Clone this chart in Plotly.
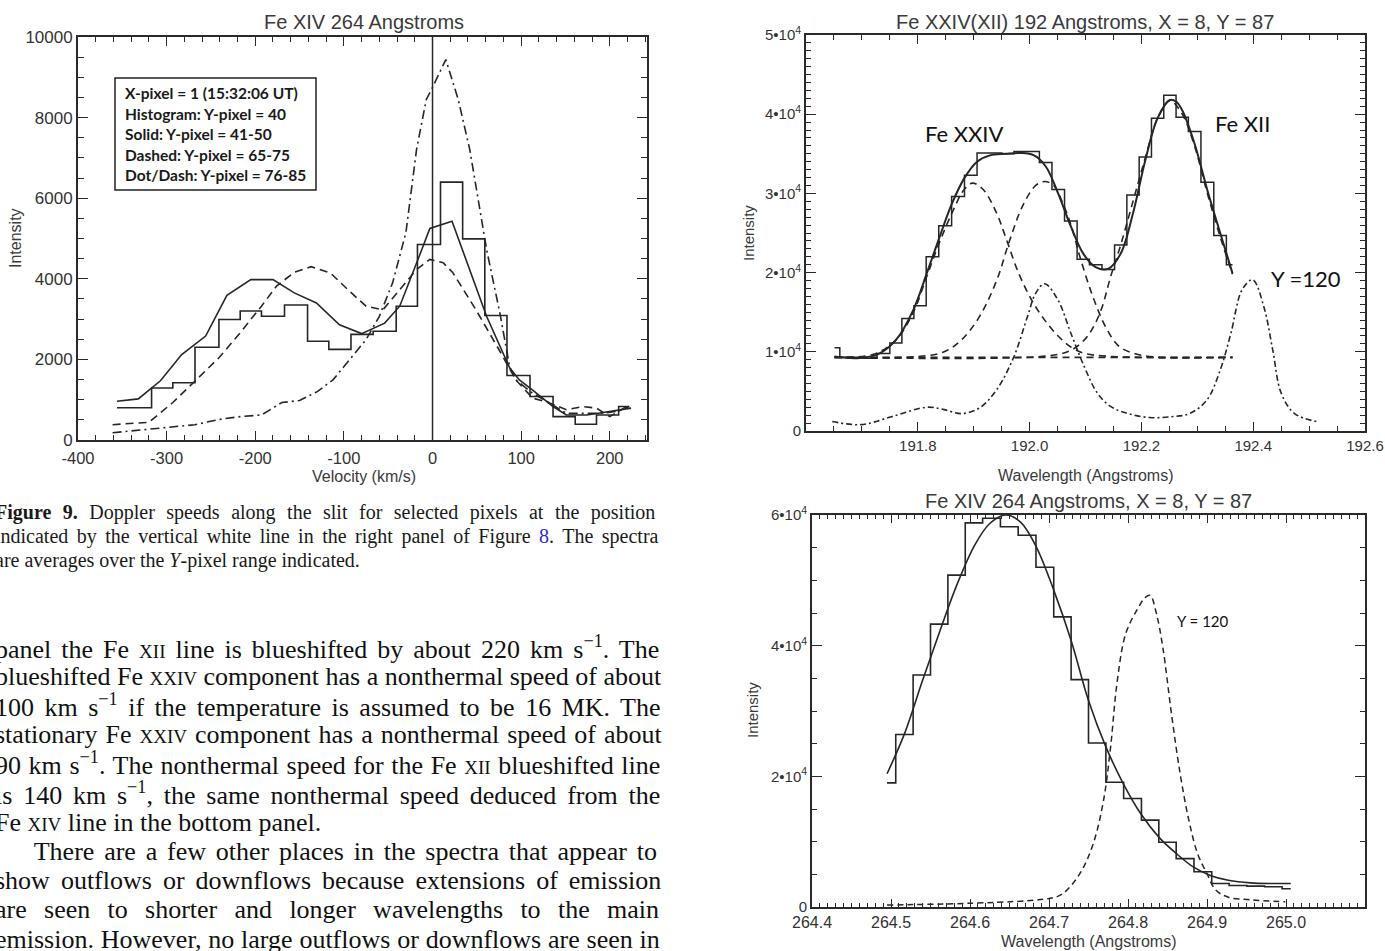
import plotly.graph_objects as go

W, H = 1385, 951
def px(x):
    return x / W
def py(y):
    return 1 - y / H

# ---------------- Left panel data (Fe XIV 264, velocity) ----------------
hist_edges = [-356, -317, -293, -268, -241, -217, -193, -167, -141, -117, -92, -67, -41,
              -17, 9, 34, 59, 84, 110, 136, 161, 185, 210, 222]
hist_values = [800, 1290, 1420, 2300, 2990, 3200, 3070, 3350, 2450, 2250, 2620, 2700, 3320,
               4850, 6400, 4990, 3090, 1600, 1080, 580, 390, 620, 830, 830]

solid_v = [-356, -332, -307, -283, -256, -232, -205, -180, -156, -131, -105, -80, -54, -37,
           -15, -3, 22, 61, 87, 98, 113, 136, 151, 174, 189, 211, 224]
solid_i = [960, 1020, 1470, 2120, 2580, 3590, 3980, 3980, 3650, 3400, 2860, 2640, 2900, 3320,
           4560, 5250, 5430, 3070, 1790, 1490, 1240, 830, 620, 620, 670, 750, 790]

dashed_v = [-361, -320, -293, -268, -241, -217, -193, -176, -156, -137, -115, -94, -75, -56,
            -37, -18, -3, 12, 23, 49, 75, 94, 113, 132, 151, 170, 185, 200, 222]
dashed_i = [380, 440, 930, 1470, 2040, 2660, 3320, 3820, 4160, 4300, 4140, 3700, 3320, 3230,
            3730, 4230, 4480, 4400, 4150, 3230, 2240, 1490, 1040, 920, 750, 830, 790, 580, 870]

dotdash_v = [-361, -300, -268, -241, -217, -193, -170, -150, -130, -112, -94, -75, -60, -45,
             -30, -18, -7, 0, 15, 29, 42, 61, 76, 87, 94, 113, 132, 151, 170, 189, 208, 222]
dotdash_i = [180, 310, 380, 510, 580, 620, 930, 980, 1200, 1500, 1990, 2490, 3070, 3900,
             5150, 7210, 8450, 8750, 9440, 8450, 7210, 4730, 3150, 1820, 1490, 1160, 920, 660,
             660, 660, 710, 830]

rest_velocity = 0
left_xticks = [-400, -300, -200, -100, 0, 100, 200]
left_yticks = [0, 2000, 4000, 6000, 8000, 10000]

# ---------------- Top-right panel data (Fe XXIV / Fe XII 192) ----------------
tr_hist_wl = [191.651, 191.670, 191.692, 191.715, 191.739, 191.761, 191.782, 191.804, 191.826,
              191.849, 191.872, 191.895, 191.917, 191.940, 191.961, 191.983, 192.006, 192.029,
              192.051, 192.074, 192.096, 192.118, 192.141, 192.163, 192.185, 192.207, 192.229,
              192.251, 192.273, 192.295, 192.318, 192.341, 192.363]
tr_hist_i = [1.05e4, 0.93e4, 0.93e4, 0.92e4, 0.98e4, 1.11e4, 1.42e4, 1.58e4, 2.20e4, 2.59e4,
             2.96e4, 3.23e4, 3.51e4, 3.51e4, 3.50e4, 3.53e4, 3.53e4, 3.39e4, 3.05e4, 2.65e4,
             2.17e4, 2.10e4, 2.04e4, 2.35e4, 2.98e4, 3.46e4, 3.95e4, 4.24e4, 3.96e4, 3.78e4,
             3.14e4, 2.47e4, 2.10e4]

tr_fit_wl = [191.651, 191.692, 191.729, 191.761, 191.792, 191.816, 191.837, 191.861, 191.883,
             191.906, 191.929, 191.957, 191.984, 192.008, 192.029, 192.051, 192.074, 192.096,
             192.118, 192.141, 192.163, 192.185, 192.207, 192.229, 192.251, 192.262, 192.273,
             192.295, 192.318, 192.341, 192.363]
tr_fit_i = [0.94e4, 0.92e4, 0.97e4, 1.15e4, 1.53e4, 1.99e4, 2.41e4, 2.87e4, 3.19e4, 3.40e4,
            3.48e4, 3.50e4, 3.51e4, 3.48e4, 3.34e4, 3.00e4, 2.58e4, 2.24e4, 2.07e4, 2.05e4,
            2.24e4, 2.75e4, 3.42e4, 3.95e4, 4.18e4, 4.16e4, 4.05e4, 3.63e4, 3.04e4, 2.50e4,
            1.99e4]

comp1_wl = [191.651, 191.721, 191.761, 191.792, 191.816, 191.837, 191.861, 191.883, 191.898,
            191.917, 191.941, 191.957, 191.980, 192.004, 192.027, 192.051, 192.074, 192.098,
            192.129, 192.192, 192.363]
comp1_i = [0.93e4, 0.97e4, 1.15e4, 1.50e4, 1.95e4, 2.35e4, 2.75e4, 3.05e4, 3.13e4, 3.05e4,
           2.75e4, 2.45e4, 2.00e4, 1.65e4, 1.40e4, 1.20e4, 1.06e4, 0.98e4, 0.95e4, 0.93e4, 0.93e4]

comp2_wl = [191.651, 191.800, 191.847, 191.878, 191.910, 191.941, 191.964, 191.988, 192.011,
            192.027, 192.043, 192.058, 192.074, 192.090, 192.113, 192.137, 192.160, 192.192,
            192.231, 192.363]
comp2_i = [0.93e4, 0.94e4, 1.00e4, 1.15e4, 1.44e4, 1.90e4, 2.40e4, 2.85e4, 3.10e4, 3.15e4,
           3.10e4, 2.90e4, 2.60e4, 2.20e4, 1.70e4, 1.30e4, 1.07e4, 0.97e4, 0.93e4, 0.93e4]

comp3_wl = [191.651, 192.035, 192.074, 192.098, 192.113, 192.129, 192.145, 192.163, 192.185,
            192.207, 192.229, 192.251, 192.273, 192.295, 192.318, 192.341, 192.363]
comp3_i = [0.93e4, 0.95e4, 1.02e4, 1.15e4, 1.30e4, 1.55e4, 1.95e4, 2.35e4, 2.90e4, 3.45e4,
           3.95e4, 4.17e4, 4.00e4, 3.60e4, 3.00e4, 2.45e4, 1.98e4]

background_wl = [191.651, 192.363]
background_i = [0.93e4, 0.93e4]

y120_wl = [191.647, 191.698, 191.753, 191.816, 191.847, 191.878, 191.910, 191.941, 191.972,
           191.996, 192.011, 192.027, 192.051, 192.074, 192.098, 192.121, 192.145, 192.176,
           192.215, 192.254, 192.286, 192.317, 192.341, 192.360, 192.380, 192.399, 192.419,
           192.435, 192.450, 192.474, 192.513]
y120_i = [0.12e4, 0.08e4, 0.18e4, 0.30e4, 0.27e4, 0.22e4, 0.29e4, 0.52e4, 0.94e4, 1.44e4,
          1.74e4, 1.86e4, 1.65e4, 1.23e4, 0.81e4, 0.48e4, 0.31e4, 0.22e4, 0.17e4, 0.18e4,
          0.22e4, 0.39e4, 0.77e4, 1.23e4, 1.78e4, 1.91e4, 1.57e4, 1.02e4, 0.48e4, 0.22e4, 0.12e4]

tr_xticks = [191.8, 192.0, 192.2, 192.4, 192.6]
tr_xlabels = ["191.8", "192.0", "192.2", "192.4", "192.6"]
tr_yticks = [0, 1e4, 2e4, 3e4, 4e4, 5e4]
tr_ylabels = ["0", "1•10<sup>4</sup>", "2•10<sup>4</sup>", "3•10<sup>4</sup>",
              "4•10<sup>4</sup>", "5•10<sup>4</sup>"]

# ---------------- Bottom-right panel data (Fe XIV 264) ----------------
br_hist_wl = [264.495, 264.517, 264.539, 264.561, 264.583, 264.605, 264.627, 264.650, 264.672,
              264.695, 264.717, 264.739, 264.761, 264.783, 264.806, 264.828, 264.850, 264.872,
              264.895, 264.917, 264.939, 264.962, 264.984, 265.006]
br_hist_i = [1.90e4, 2.64e4, 3.55e4, 4.33e4, 5.08e4, 5.88e4, 5.95e4, 5.82e4, 5.69e4, 5.20e4,
             4.44e4, 3.48e4, 2.51e4, 1.91e4, 1.66e4, 1.33e4, 0.99e4, 0.74e4, 0.54e4, 0.36e4,
             0.33e4, 0.32e4, 0.31e4, 0.28e4]

br_fit_wl = [264.495, 264.517, 264.540, 264.562, 264.584, 264.606, 264.625, 264.645, 264.664,
             264.684, 264.706, 264.728, 264.750, 264.772, 264.794, 264.816, 264.839, 264.861,
             264.883, 264.905, 264.927, 264.955, 264.983, 265.006]
br_fit_i = [2.04e4, 2.65e4, 3.47e4, 4.23e4, 4.95e4, 5.54e4, 5.87e4, 6.00e4, 5.89e4, 5.51e4,
            4.85e4, 4.08e4, 3.16e4, 2.45e4, 1.89e4, 1.43e4, 1.07e4, 0.82e4, 0.61e4, 0.48e4,
            0.41e4, 0.37e4, 0.36e4, 0.36e4]

br_y120_wl = [264.495, 264.700, 264.717, 264.739, 264.756, 264.769, 264.778, 264.786, 264.797,
              264.811, 264.822, 264.828, 264.836, 264.844, 264.855, 264.866, 264.877, 264.888,
              264.900, 264.911, 264.927, 264.955, 264.999]
br_y120_i = [0.03e4, 0.13e4, 0.20e4, 0.51e4, 0.97e4, 1.63e4, 2.45e4, 3.42e4, 4.18e4, 4.54e4,
             4.74e4, 4.77e4, 4.49e4, 3.98e4, 2.96e4, 2.04e4, 1.33e4, 0.82e4, 0.51e4, 0.26e4,
             0.15e4, 0.11e4, 0.08e4]

br_xticks = [264.4, 264.5, 264.6, 264.7, 264.8, 264.9, 265.0, 265.1]
br_xlabels = ["264.4", "264.5", "264.6", "264.7", "264.8", "264.9", "265.0", "265.1"]
br_yticks = [0, 2e4, 4e4, 6e4]
br_ylabels = ["0", "2•10<sup>4</sup>", "4•10<sup>4</sup>", "6•10<sup>4</sup>"]

legend_lines = ["X-pixel = 1 (15:32:06 UT)", "Histogram: Y-pixel = 40", "Solid: Y-pixel = 41-50",
                "Dashed: Y-pixel = 65-75", "Dot/Dash: Y-pixel = 76-85"]

SC = "<span style='font-size:19px'>{}</span>"
caption_lines = [
    "<b>Figure 9.</b> Doppler speeds along the slit for selected pixels at the position",
    "indicated by the vertical white line in the right panel of Figure <span style='color:#2b2bd9'>8</span>. The spectra",
    "are averages over the <i>Y</i>-pixel range indicated.",
]
caption_spacing = [6.5, 3.5, 0]
body_lines = [
    "panel the Fe " + SC.format("XII") + " line is blueshifted by about 220 km s<sup>−1</sup>. The",
    "blueshifted Fe " + SC.format("XXIV") + " component has a nonthermal speed of about",
    "100 km s<sup>−1</sup> if the temperature is assumed to be 16 MK. The",
    "stationary Fe " + SC.format("XXIV") + " component has a nonthermal speed of about",
    "90 km s<sup>−1</sup>. The nonthermal speed for the Fe " + SC.format("XII") + " blueshifted line",
    "is 140 km s<sup>−1</sup>, the same nonthermal speed deduced from the",
    "Fe " + SC.format("XIV") + " line in the bottom panel.",
    "    There are a few other places in the spectra that appear to",
    "show outflows or downflows because extensions of emission",
    "are seen to shorter and longer wavelengths to the main",
    "emission. However, no large outflows or downflows are seen in",
]
body_spacing = [3.5, 0, 4.0, 1.5, 1.1, 4.3, 0, 3.3, 4.5, 10.8, 0.3]

# ---------------- Figure ----------------
LINE = "#262626"
fig = go.Figure()

def add(x, y, ax, dash="solid", shape="linear", width=1.6):
    fig.add_trace(go.Scatter(x=x, y=y, mode="lines", xaxis="x" + ax, yaxis="y" + ax,
                             line=dict(color=LINE, width=width, dash=dash, shape=shape),
                             hoverinfo="skip"))

add(hist_edges, hist_values, "", shape="hv")
add(solid_v, solid_i, "")
add(dashed_v, dashed_i, "", dash="8px,5px")
add(dotdash_v, dotdash_i, "", dash="9px,4px,2px,4px")

add(tr_hist_wl, tr_hist_i, "2", shape="hvh", width=1.5)
add(tr_fit_wl, tr_fit_i, "2", shape="spline", width=2.0)
add(comp1_wl, comp1_i, "2", dash="7px,5px", shape="spline")
add(comp2_wl, comp2_i, "2", dash="7px,5px", shape="spline")
add(comp3_wl, comp3_i, "2", dash="7px,5px", shape="spline")
add(background_wl, background_i, "2", dash="7px,5px")
add(y120_wl, y120_i, "2", dash="6px,3px,2px,3px", shape="spline")

add(br_hist_wl, br_hist_i, "3", shape="hvh", width=1.6)
add(br_fit_wl, br_fit_i, "3", shape="spline", width=1.6)
add(br_y120_wl, br_y120_i, "3", dash="6px,4px", shape="spline", width=1.5)

SANS = "Liberation Sans, Arial, sans-serif"

def axis(domain, rng, tickvals, ticktext, minor_dtick, anchor, ticklen=9, minorlen=5,
         tick0=None, fsize=15, standoff=None):
    d = dict(domain=domain, range=rng, anchor=anchor, showline=True, linecolor="#2a2a2a",
             linewidth=1.8, mirror="allticks", ticks="inside", ticklen=ticklen, tickwidth=1.3,
             tickcolor="#2a2a2a", showgrid=False, zeroline=False, tickmode="array",
             tickvals=tickvals, ticktext=ticktext, automargin=False,
             tickfont=dict(family=SANS, size=fsize, color="#333333"),
             minor=dict(ticks="inside", ticklen=minorlen, tickwidth=1.1, tickcolor="#2a2a2a",
                        dtick=minor_dtick, showgrid=False))
    if tick0 is not None:
        d["minor"]["tick0"] = tick0
    if standoff is not None:
        d["ticklabelstandoff"] = standoff
    return d

fig.update_layout(
    width=W, height=H, margin=dict(l=0, r=0, t=0, b=0, pad=0, autoexpand=False),
    showlegend=False, paper_bgcolor="white", plot_bgcolor="white",
    xaxis=axis([px(78), px(647)], [-400, 242], left_xticks, [str(v) for v in left_xticks],
               20, "y", ticklen=9, minorlen=5, tick0=-400, fsize=16.5, standoff=2),
    yaxis=axis([py(440), py(37)], [0, 10000], left_yticks, [str(v) for v in left_yticks],
               500, "x", ticklen=10, minorlen=6, tick0=0, fsize=17),
    xaxis2=axis([px(806), px(1365)], [191.6, 192.6], tr_xticks, tr_xlabels, 0.05, "y2",
                ticklen=9, minorlen=5, tick0=191.6, fsize=15),
    yaxis2=axis([py(431), py(35)], [0, 5e4], tr_yticks, tr_ylabels, 1000, "x2",
                ticklen=10, minorlen=5, tick0=0, fsize=15),
    xaxis3=axis([px(812), px(1365)], [264.4, 265.1], br_xticks, br_xlabels, 0.01, "y3",
                ticklen=8, minorlen=4, tick0=264.4, fsize=16),
    yaxis3=axis([py(907), py(515)], [0, 6e4], br_yticks, br_ylabels, 5000, "x3",
                ticklen=10, minorlen=5, tick0=0, fsize=15),
)

# zero-velocity reference line
fig.add_shape(type="line", xref="x", yref="y domain", x0=rest_velocity, x1=rest_velocity,
              y0=0, y1=1, line=dict(color=LINE, width=1.5))

# legend box (left panel)
fig.add_shape(type="rect", xref="paper", yref="paper", x0=px(115), x1=px(316), y0=py(190),
              y1=py(78), line=dict(color="#222222", width=1.5), fillcolor="rgba(0,0,0,0)")

ann = []
TITLEFONT = dict(family=SANS, size=20, color="#3a3a3a")
LABELFONT = dict(family=SANS, size=16, color="#3a3a3a")

def text(x, y, t, font, xanchor="center", yanchor="middle", angle=0, xref="paper", yref="paper"):
    ann.append(dict(x=x, y=y, xref=xref, yref=yref, text=t, showarrow=False, font=font,
                    xanchor=xanchor, yanchor=yanchor, textangle=angle))

# titles
text(px(364), py(22), "Fe XIV 264 Angstroms", TITLEFONT)
text(px(1085), py(22), "Fe XXIV(XII) 192 Angstroms, X = 8, Y = 87", TITLEFONT)
text(px(1088), py(501), "Fe XIV 264 Angstroms, X = 8, Y = 87", TITLEFONT)
# axis titles
text(px(364), py(476), "Velocity (km/s)", LABELFONT)
text(px(1085), py(475), "Wavelength (Angstroms)", LABELFONT)
text(px(1088), py(941), "Wavelength (Angstroms)", LABELFONT)
text(px(15), py(238), "Intensity", LABELFONT, angle=-90)
text(px(748), py(233), "Intensity", dict(family=SANS, size=15, color="#3a3a3a"), angle=-90)
text(px(752), py(710), "Intensity", dict(family=SANS, size=15, color="#3a3a3a"), angle=-90)

# legend text
LEGFONT = dict(family="Lato, Open Sans, sans-serif", size=15.5, color="#1a1a1a")
for i, line in enumerate(legend_lines):
    text(px(123), py(93 + i * 20.5), "<b>" + line + "</b>", LEGFONT, xanchor="left")

# in-plot labels
CAL = dict(family="Lato, Open Sans, sans-serif", size=22, color="#111111")
text(191.809, 3.76e4, "Fe XXIV", CAL, xanchor="left", xref="x2", yref="y2")
text(192.328, 3.88e4, "Fe XII", CAL, xanchor="left", xref="x2", yref="y2")
text(192.428, 1.93e4, "Y =120", CAL, xanchor="left", xref="x2", yref="y2")
text(264.859, 4.38e4, "Y = 120", dict(family="Lato, Open Sans, sans-serif", size=15,
     color="#111111"), xanchor="left", xref="x3", yref="y3")

# caption & body text
CAPFONT = dict(family="Liberation Serif, Times New Roman, serif", size=20, color="#1a1a1a")
for i, line in enumerate(caption_lines):
    t = "<span style='word-spacing:%.1fpx'>%s</span>" % (caption_spacing[i], line)
    text(px(-7), py(512 + i * 24), t, CAPFONT, xanchor="left")
BODYFONT = dict(family="Liberation Serif, Times New Roman, serif", size=26, color="#111111")
for i, line in enumerate(body_lines):
    t = "<span style='word-spacing:%.1fpx'>%s</span>" % (body_spacing[i], line)
    text(px(-7), py(647 + i * 29.2), t, BODYFONT, xanchor="left")

fig.update_layout(annotations=ann)
fig.write_html("out.html")
